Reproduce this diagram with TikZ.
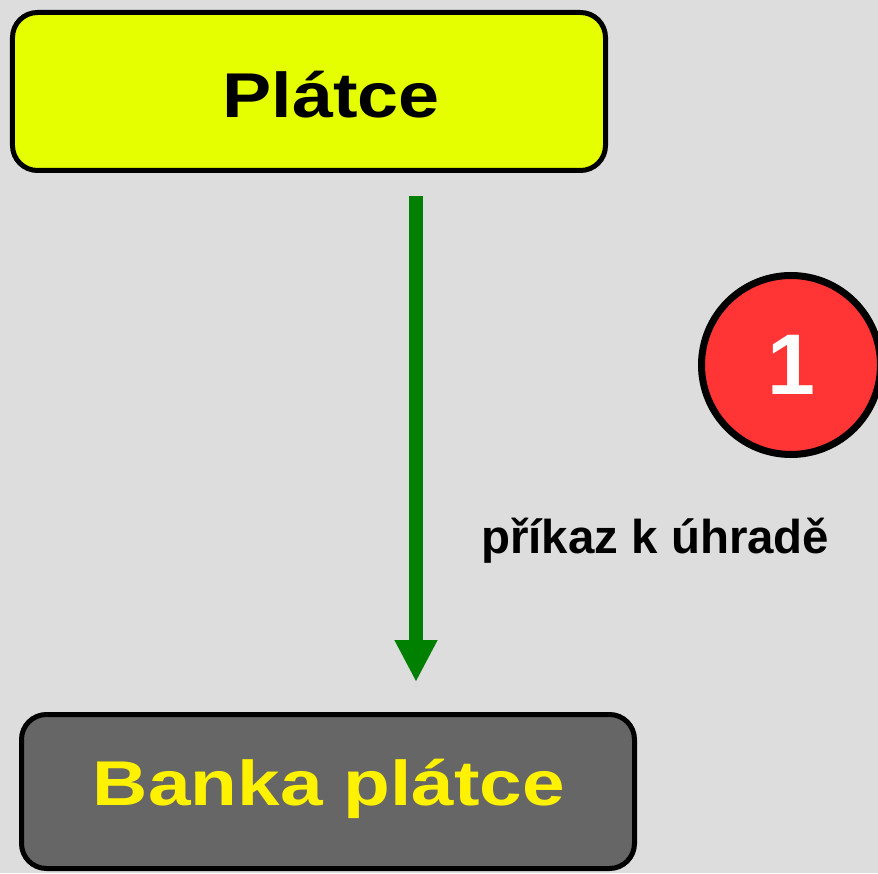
\documentclass[tikz,border=0pt]{standalone}
\usepackage{fontspec}
\setmainfont{Liberation Sans}
\usetikzlibrary{calc,arrows.meta}

\definecolor{fond}{HTML}{DDDDDD}
\definecolor{jaune}{HTML}{E6FF00}
\definecolor{gris}{HTML}{666666}
\definecolor{vert}{HTML}{008000}
\definecolor{rouge}{HTML}{FF3535}

\tikzset{
  boite/.style={draw=black, line width=0.1cm, rounded corners=0.5cm},
  titre/.style={anchor=base, inner sep=0pt, font=\bfseries\fontsize{36}{43}\selectfont},
  fleche/.style={vert, line width=0.28cm, -{Triangle[length=0.84cm, width=0.8cm]}},
}

\begin{document}
\begin{tikzpicture}
    \useasboundingbox (0,0) rectangle (17.56,17.46);
    \fill[fond] (0,0) rectangle (17.56,17.46);
    \node[boite, fill=jaune, minimum width=11.86cm, minimum height=3.16cm] (P) at (6.18,15.63) {};
    \node[titre] (Pt) at (6.62,15.10) {\scalebox{1.165}[1]{Plátce}};
    \node[boite, fill=gris, minimum width=12.26cm, minimum height=3.08cm] (B) at (6.56,1.63) {};
    \node[titre, text=yellow] (Bt) at (6.58,1.36) {\scalebox{1.21}[1]{Banka plátce}};
    \coordinate (D) at (8.32,13.54);
    \coordinate (A) at (8.32,3.82);
    \draw[fleche] (D) -- (A);
    \node[circle, draw=black, line width=0.14cm, fill=rouge, minimum size=3.58cm,
          text=white, font=\bfseries\fontsize{49}{58}\selectfont] (N) at (15.82,10.16) {1};
    \node[anchor=west, font=\bfseries\fontsize{27}{32}\selectfont] (L) at (9.50,6.64) {příkaz k úhradě};
\end{tikzpicture}
\end{document}
